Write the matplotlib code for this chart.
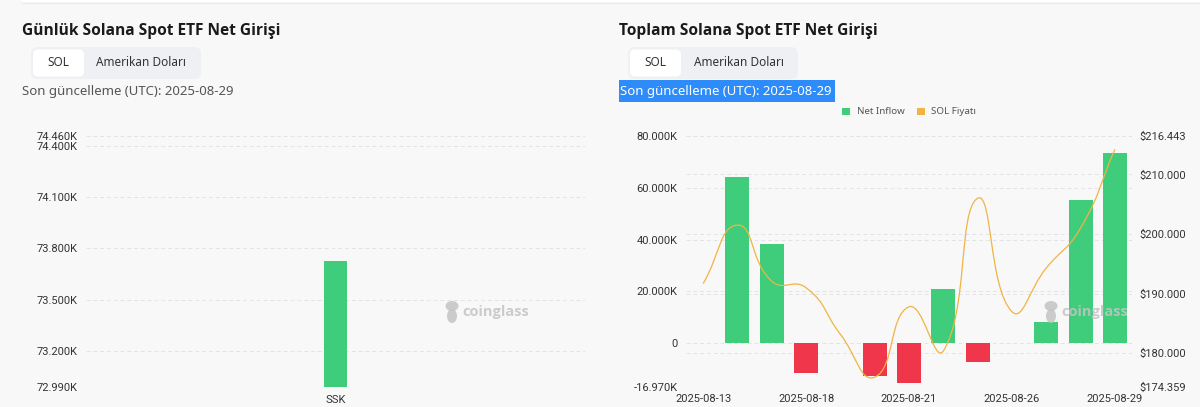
import numpy as np
import matplotlib
matplotlib.use("Agg")
import matplotlib.pyplot as plt
from matplotlib.path import Path
from matplotlib.patches import PathPatch, FancyBboxPatch, Rectangle, Ellipse

# ---- data ----
left_cats = ["SSK"]
left_vals = [73727]
left_ticks = [72990, 73200, 73500, 73800, 74100, 74400, 74460]
left_ticklabels = ["72.990K", "73.200K", "73.500K", "73.800K", "74.100K", "74.400K", "74.460K"]

dates = ["2025-08-13", "2025-08-14", "2025-08-15", "2025-08-18", "2025-08-19",
         "2025-08-20", "2025-08-21", "2025-08-22", "2025-08-25", "2025-08-26",
         "2025-08-27", "2025-08-28", "2025-08-29"]
net_inflow = [0, 64100, 38200, -11650, 0, -12600, -15300, 20700, -7300, 0,
              8200, 55300, 73400]
sol_price = [191.7, 201.5, 192.1, 191.0, 183.2, 176.0, 187.8, 180.4, 206.0,
             187.0, 194.3, 201.0, 214.2]
inflow_ticks = [-16970, 0, 20000, 40000, 60000, 80000]
inflow_ticklabels = ["-16.970K", "0", "20.000K", "40.000K", "60.000K", "80.000K"]
price_ticks = [174.359, 180, 190, 200, 210, 216.443]
price_ticklabels = ["$174.359", "$180.000", "$190.000", "$200.000", "$210.000", "$216.443"]

GREEN = "#3fcd7c"
RED = "#f0364b"
ORANGE = "#f0b444"
BG = "#f8f8f8"
GRID = "#e4e4e4"
TXT = "#333333"
DASH = (0, (4, 3))

W, H = 1200, 407
fig = plt.figure(figsize=(12, 4.07), dpi=100, facecolor=BG)


def box(x0, y0, x1, y1):
    return [x0 / W, 1 - y1 / H, (x1 - x0) / W, (y1 - y0) / H]


def style_axis(ax):
    ax.set_facecolor("none")
    for s in ax.spines.values():
        s.set_visible(False)
    ax.tick_params(length=0, labelsize=8, labelcolor=TXT)
    for lab in ax.get_xticklabels() + ax.get_yticklabels():
        lab.set_fontfamily("Roboto")


# ---- left chart ----
ax1 = fig.add_axes(box(86, 135.7, 585, 386.7))
ax1.set_xlim(-0.5, 0.5)
ax1.set_ylim(72990, 74460)
ax1.bar(range(len(left_cats)), np.array(left_vals) - 72990, bottom=72990,
        width=0.048, color=GREEN, zorder=3)
ax1.set_yticks(left_ticks)
ax1.set_yticklabels(left_ticklabels)
ax1.set_xticks(range(len(left_cats)))
ax1.set_xticklabels(left_cats)
ax1.grid(axis="y", color=GRID, linestyle=DASH, linewidth=0.7)
ax1.tick_params(axis="y", pad=6)
ax1.tick_params(axis="x", pad=6)
style_axis(ax1)

# ---- right chart ----
ax2 = fig.add_axes(box(686, 136, 1132, 387))
x = np.arange(len(dates))
lo, hi = -16970, 80000
plo, phi = 174.359, 216.443
colors = [GREEN if v >= 0 else RED for v in net_inflow]
ax2.bar(x, net_inflow, width=0.70, color=colors, zorder=3)
ax2.set_xlim(-0.5, len(dates) - 0.5)
ax2.set_ylim(lo, hi)
ax2.set_yticks(inflow_ticks)
ax2.set_yticklabels(inflow_ticklabels)
ax2.set_xticks(x[::3])
ax2.set_xticklabels(dates[::3])
ax2.grid(axis="y", color=GRID, linestyle=DASH, linewidth=0.7)
# price-axis grid lines, drawn under the bars
for p in price_ticks:
    ax2.axhline(lo + (p - plo) / (phi - plo) * (hi - lo), color=GRID,
                linestyle=DASH, linewidth=0.7, zorder=0.5)
ax2.tick_params(axis="y", pad=6)
ax2.tick_params(axis="x", pad=5)
style_axis(ax2)

ax3 = ax2.twinx()
ax3.set_ylim(plo, phi)
ax3.set_yticks(price_ticks)
ax3.set_yticklabels(price_ticklabels)
ax3.tick_params(axis="y", pad=5)
style_axis(ax3)


# smooth price line (bezier through the points, echarts style)
def smooth_path(xv, yv, sx, sy, smooth=0.5):
    pts = np.column_stack([xv, yv]).astype(float)
    sc = np.array([sx, sy])
    n = len(pts)
    cps = []
    for i in range(n):
        prev = pts[max(i - 1, 0)]
        nxt = pts[min(i + 1, n - 1)]
        v = (nxt - prev) * smooth
        d0 = np.hypot(*((pts[i] - prev) * sc))
        d1 = np.hypot(*((nxt - pts[i]) * sc))
        s = d0 + d1
        if s > 0:
            d0, d1 = d0 / s, d1 / s
        cps.append((pts[i] - v * d0, pts[i] + v * d1))
    verts = [pts[0]]
    codes = [Path.MOVETO]
    for i in range(n - 1):
        verts += [cps[i][1], cps[i + 1][0], pts[i + 1]]
        codes += [Path.CURVE4] * 3
    return Path(verts, codes)


ax3.add_patch(PathPatch(smooth_path(x, sol_price, 34.4, 5.967),
                        facecolor="none", edgecolor=ORANGE, linewidth=0.9, zorder=4))

# ---- overlay for titles, buttons, legend, watermark ----
ov = fig.add_axes([0, 0, 1, 1], zorder=10)
ov.set_xlim(0, W)
ov.set_ylim(H, 0)
ov.axis("off")
ov.patch.set_alpha(0)

ov.add_patch(Rectangle((22, 0), W - 22, 2, facecolor="white", edgecolor="none"))
ov.plot([22, W], [2.5, 2.5], color="#ececec", linewidth=1)

for off, title in [(0, "Günlük Solana Spot ETF Net Girişi"),
                   (597, "Toplam Solana Spot ETF Net Girişi")]:
    ov.text(22 + off, 31, title, fontsize=11.2, fontweight="bold",
            family="Open Sans", color="#1a1a1a", va="center", ha="left")
    ov.add_patch(FancyBboxPatch((31 + off, 47), 170, 32,
                                boxstyle="round,pad=0,rounding_size=7",
                                facecolor="#eef0f3", edgecolor="none"))
    ov.add_patch(FancyBboxPatch((33 + off, 49.5), 51, 27,
                                boxstyle="round,pad=0,rounding_size=5",
                                facecolor="white", edgecolor="none"))
    ov.text(58.5 + off, 63, "SOL", fontsize=8.5, family="Noto Sans",
            color=TXT, ha="center", va="center")
    ov.text(141.5 + off, 63, "Amerikan Doları", fontsize=8.5, family="Noto Sans",
            color=TXT, ha="center", va="center")

ov.text(22, 91, "Son güncelleme (UTC): 2025-08-29", fontsize=9.5,
        family="Noto Sans", color="#555555", ha="left", va="center")
ov.add_patch(Rectangle((618.5, 80), 216.5, 21.5, facecolor="#2d8cf9", edgecolor="none"))
ov.text(620, 91, "Son güncelleme (UTC): 2025-08-29", fontsize=9.5,
        family="Noto Sans", color="white", ha="left", va="center")

# legend
ov.add_patch(Rectangle((842, 107.5), 8, 7.5, facecolor=GREEN, edgecolor="none"))
ov.text(857, 111.5, "Net Inflow", fontsize=7, family="Noto Sans", color="#555555",
        ha="left", va="center")
ov.add_patch(Rectangle((917, 107.5), 8, 7.5, facecolor=ORANGE, edgecolor="none"))
ov.text(931, 111.5, "SOL Fiyatı", fontsize=7, family="Noto Sans", color="#555555",
        ha="left", va="center")

# watermarks
for wx in (446, 1045):
    ov.add_patch(Ellipse((wx + 6, 306), 13, 10, facecolor="#c4c4c4", edgecolor="none", alpha=0.85))
    ov.add_patch(Ellipse((wx + 6, 316), 10, 14, facecolor="#c4c4c4", edgecolor="none", alpha=0.85))
    ov.text(wx + 16, 312, "coinglass", fontsize=10.5, fontweight="bold",
            family="Open Sans", color="#c4c4c4", alpha=0.85, ha="left", va="center")

fig.savefig("out.png", dpi=100, facecolor=BG)
